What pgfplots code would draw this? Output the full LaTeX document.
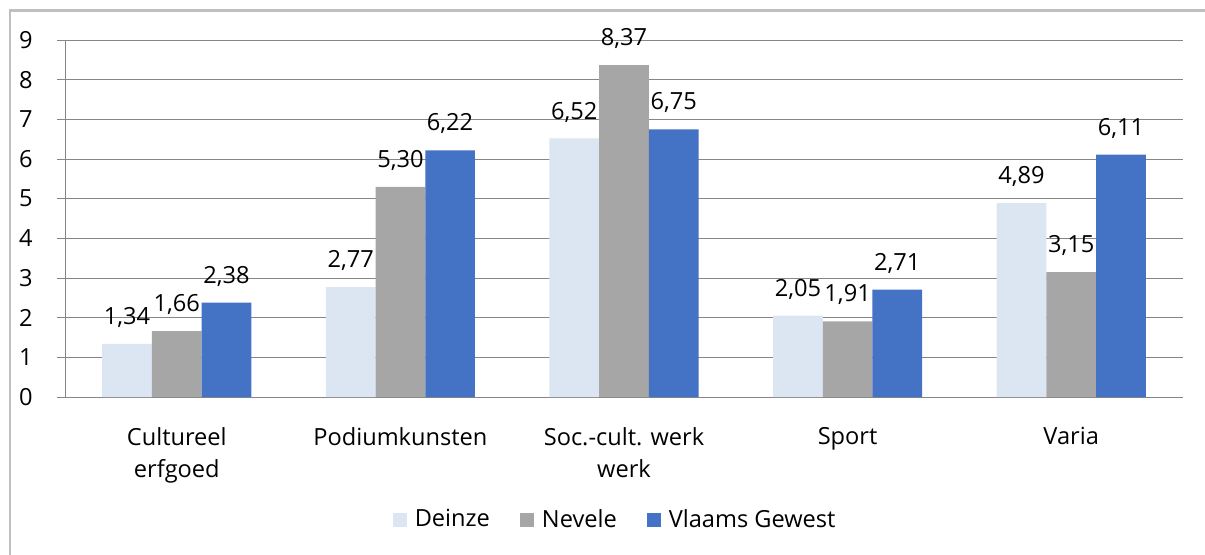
\documentclass[border=0pt]{standalone}
\usepackage{pgfplots}
\pgfplotsset{compat=1.18}
\usepackage{fontspec}
\setmainfont{Open Sans}
\definecolor{deinze}{HTML}{DCE6F2}
\definecolor{nevele}{HTML}{A6A6A6}
\definecolor{vlaams}{HTML}{4472C4}
\definecolor{gridc}{HTML}{868686}
\definecolor{borderc}{HTML}{BFBFBF}
\pgfkeys{/pgf/number format/assume math mode=true}
\begin{document}
\fontsize{11.8}{16}\selectfont
\begin{tikzpicture}
\useasboundingbox (-32.5pt,-78.5pt) rectangle (570pt,198.5pt);
\draw[borderc, line width=1.2pt] (-27.5pt,-80pt) -- (-27.5pt,193.25pt) -- (572pt,193.25pt);
\begin{axis}[
  scale only axis,
  width=559pt, height=178.5pt,
  ybar=0pt, bar width=24.85pt,
  xmin=-0.5, xmax=4.5, ymin=0, ymax=9,
  enlargelimits=false,
  axis x line*=bottom, axis y line*=left,
  axis line style={gridc, -},
  xtick={0,1,2,3,4},
  xticklabels={{Cultureel\\erfgoed},Podiumkunsten,{Soc.-cult. werk\\werk},Sport,Varia},
  xtick style={draw=none},
  minor xtick={-0.5,0.5,1.5,2.5,3.5,4.5},
  minor x tick style={gridc},
  ytick={0,1,...,9},
  ytick style={gridc},
  tick align=outside,
  major tick length=4pt, minor tick length=4pt,
  ymajorgrids, grid style={gridc, line width=0.5pt},
  yticklabel style={anchor=east, xshift=-8pt},
  xticklabel style={align=center, anchor=north, yshift=-7pt},
  tick label style={font=\fontsize{11.8}{16}\selectfont},
  nodes near coords,
  nodes near coords style={font=\fontsize{11.8}{16}\selectfont, anchor=south, inner sep=0pt, text depth=0pt, yshift=9.5pt,
    /pgf/number format/.cd, fixed, fixed zerofill, precision=2, use comma},
  legend style={at={(rel axis cs:0.493,-0.3445)}, anchor=center, draw=none, fill=none,
    font=\fontsize{11.8}{16}\selectfont, legend columns=3,
    /tikz/every odd column/.append style={column sep=2pt},
    /tikz/every even column/.append style={column sep=13pt}},
  legend image code/.code={\fill[#1] (0pt,-3.5pt) rectangle (7pt,3.5pt);},
]
\addplot[fill=deinze, draw=none] coordinates {(0,1.34) (1,2.77) (2,6.52) (3,2.05) (4,4.89)};
\addplot[fill=nevele, draw=none] coordinates {(0,1.66) (1,5.30) (2,8.37) (3,1.91) (4,3.15)};
\addplot[fill=vlaams, draw=none] coordinates {(0,2.38) (1,6.22) (2,6.75) (3,2.71) (4,6.11)};
\legend{Deinze, Nevele, Vlaams Gewest}
\end{axis}
\end{tikzpicture}
\end{document}
